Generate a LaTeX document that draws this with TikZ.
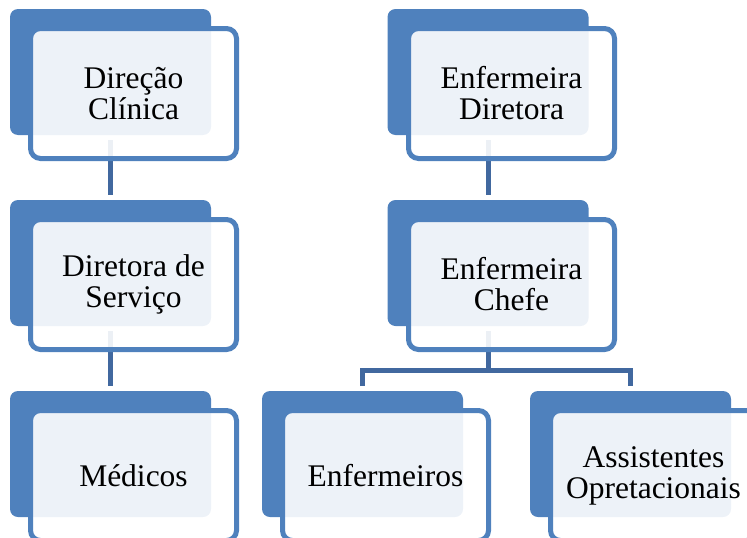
\documentclass[tikz,border=0pt]{standalone}
\usepackage{fontspec}
\setmainfont{Liberation Serif}
\usetikzlibrary{calc}
\definecolor{accblue}{RGB}{79,129,189}
\definecolor{connblue}{RGB}{65,104,159}
\tikzset{
  backbox/.style={rectangle, rounded corners=8pt, fill=accblue, draw=none,
    minimum width=201pt, minimum height=126pt, inner sep=0pt, outer sep=0pt},
  frontbox/.style={rectangle, rounded corners=10pt, draw=accblue, line width=5pt,
    fill=white, fill opacity=0.9, text opacity=1,
    minimum width=206pt, minimum height=130pt, inner sep=0pt, outer sep=0pt,
    align=center, font=\fontsize{31.5}{31}\selectfont},
  conn/.style={draw=connblue, line width=5pt},
}
\begin{document}
\begin{tikzpicture}[x=1pt,y=-1pt]
\useasboundingbox (0,0) rectangle (747,538);
\clip (0,0) rectangle (747,538);
% back boxes
\node[backbox] (b1) at (110.5,72) {};
\node[backbox] (b2) at (110.5,263) {};
\node[backbox] (b3) at (110.5,454) {};
\node[backbox] (b4) at (488,72) {};
\node[backbox] (b5) at (488,263) {};
\node[backbox] (b6) at (362.5,454) {};
\node[backbox] (b7) at (630.5,454) {};
% connectors
\draw[conn] ($(b1.south)+(0,5)$) -- ($(b2.north)+(0,-5)$);
\draw[conn] ($(b2.south)+(0,5)$) -- ($(b3.north)+(0,-5)$);
\draw[conn] ($(b4.south)+(0,5)$) -- ($(b5.north)+(0,-5)$);
\coordinate (j) at ($(b5.south)+(0,44)$);
\draw[conn] ($(b5.south)+(0,5)$) -- (j);
\draw[conn] ($(b6.north)+(0,-5)$) |- (j) -| ($(b7.north)+(0,-5)$);
% front boxes
\node[frontbox] (f1) at ($(b1.center)+(23,21.5)$) {Direção\\Clínica};
\node[frontbox] (f2) at ($(b2.center)+(23,21.5)$) {Diretora de\\Serviço};
\node[frontbox] (f3) at ($(b3.center)+(23,21.5)$) {Médicos};
\node[frontbox] (f4) at ($(b4.center)+(23.5,21.5)$) {Enfermeira\\Diretora};
\node[frontbox] (f5) at ($(b5.center)+(23.5,21.5)$) {Enfermeira\\Chefe};
\node[frontbox] (f6) at ($(b6.center)+(23,21.5)$) {Enfermeiros};
\node[frontbox] (f7) at ($(b7.center)+(23,21.5)$) {Assistentes\\Opretacionais};
\end{tikzpicture}
\end{document}
